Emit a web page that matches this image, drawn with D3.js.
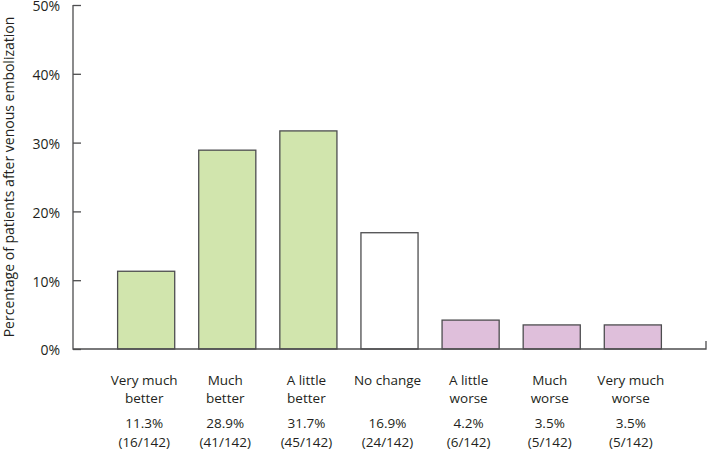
<!DOCTYPE html>
<html>
<head>
<meta charset="utf-8">
<script src="https://cdn.jsdelivr.net/npm/d3@7"></script>
<style>
  body { margin: 0; background: #fff; }
  text { font-family: "Open Sans", "Noto Sans", sans-serif; fill: #231f20; }
</style>
</head>
<body>
<svg id="chart"></svg>
<script>
// data
const categories = [["Very much", "better"], ["Much", "better"], ["A little", "better"], ["No change"],
                    ["A little", "worse"], ["Much", "worse"], ["Very much", "worse"]];
const percents = [11.3, 28.9, 31.7, 16.9, 4.2, 3.5, 3.5];
const counts = ["(16/142)", "(41/142)", "(45/142)", "(24/142)", "(6/142)", "(5/142)", "(5/142)"];
const groups = ["better", "better", "better", "none", "worse", "worse", "worse"];
const yTicks = [0, 10, 20, 30, 40, 50];

const width = 707, height = 457;
const margin = {top: 5, right: 1, bottom: 108, left: 73};

const colors = {better: "#d1e5ad", none: "#ffffff", worse: "#dfbfdb"};

const svg = d3.select("#chart")
    .attr("width", width)
    .attr("height", height);

const x = d3.scaleBand()
    .domain(d3.range(categories.length))
    .range([margin.left, width - margin.right])
    .paddingInner(0.296)
    .paddingOuter(0.55);

const y = d3.scaleLinear()
    .domain([0, 50])
    .range([height - margin.bottom, margin.top]);

//棒
svg.append("g")
    .selectAll("rect")
    .data(percents)
    .join("rect")
    .attr("x", (d, i) => x(i))
    .attr("y", d => y(d))
    .attr("width", x.bandwidth())
    .attr("height", d => y(0) - y(d))
    .attr("fill", (d, i) => colors[groups[i]])
    .attr("stroke", "#4d4d4f")
    .attr("stroke-width", 1.3);

//y軸
const yAxis = svg.append("g")
    .attr("transform", `translate(${margin.left},0)`)
    .call(d3.axisRight(y).tickValues(yTicks).tickSize(8).tickFormat(d => d + "%"));
yAxis.select(".domain").remove();
yAxis.selectAll(".tick line").attr("stroke", "#4d4d4f").attr("stroke-width", 1.3);
yAxis.selectAll(".tick text")
    .attr("x", -13)
    .attr("dy", "0.42em")
    .attr("text-anchor", "end")
    .style("font-size", "14px")
    .style("font-family", "'Open Sans', 'Noto Sans', sans-serif")
    .attr("fill", "#231f20");

// axis lines
svg.append("path")
    .attr("d", `M${margin.left},${y(50)}V${y(0)}H${width - margin.right}V${y(0) - 8}`)
    .attr("fill", "none")
    .attr("stroke", "#4d4d4f")
    .attr("stroke-width", 1.3);

// category labels
const labels = svg.append("g")
    .selectAll("g")
    .data(categories)
    .join("g")
    .attr("transform", (d, i) => `translate(${x(i) + x.bandwidth() / 2 - 2},0)`);

labels.each(function(lines, i) {
    const g = d3.select(this);
    lines.forEach((t, k) => {
        g.append("text")
            .attr("y", 385 + k * 18)
            .attr("text-anchor", "middle")
            .style("font-size", "13.5px")
            .text(t);
    });
    g.append("text")
        .attr("y", 428)
        .attr("text-anchor", "middle")
        .style("font-size", "13.5px")
        .text(percents[i].toFixed(1) + "%");
    g.append("text")
        .attr("y", 447)
        .attr("text-anchor", "middle")
        .style("font-size", "13.5px")
        .text(counts[i]);
});

// y label
svg.append("text")
    .attr("transform", `translate(14,${(y(0) + y(50)) / 2}) rotate(-90)`)
    .attr("text-anchor", "middle")
    .style("font-size", "14px")
    .text("Percentage of patients after venous embolization");
</script>
</body>
</html>
